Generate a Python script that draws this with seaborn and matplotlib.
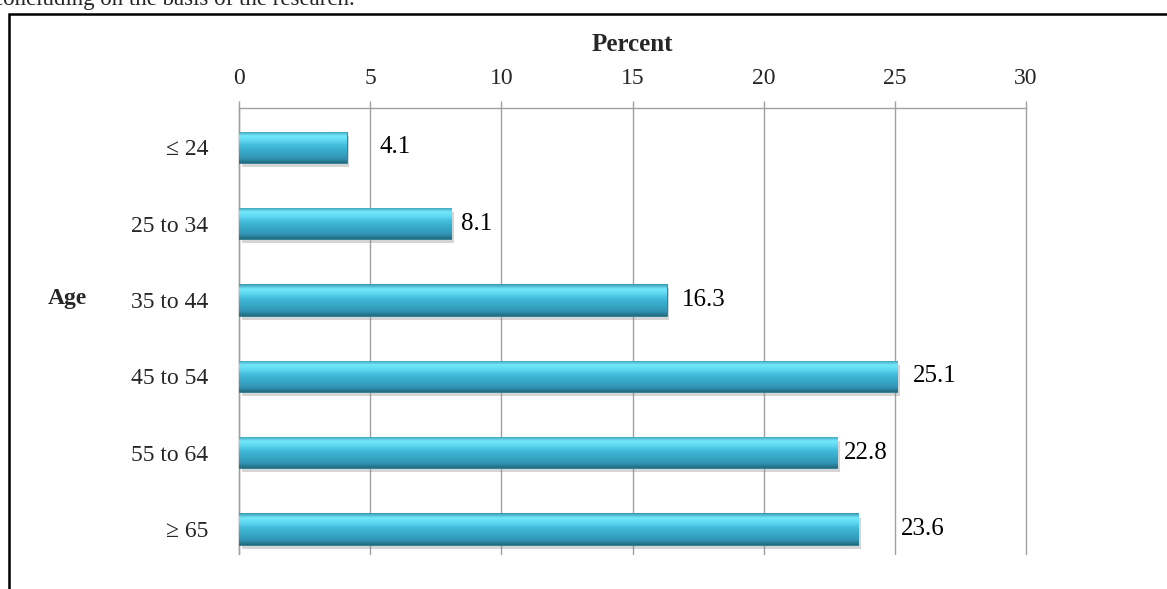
import numpy as np
import pandas as pd
import matplotlib
matplotlib.use("Agg")
import matplotlib.pyplot as plt
import matplotlib.patches as mpatches
import matplotlib.patheffects as pe
import seaborn as sns

# data
age_groups = ["≤ 24", "25 to 34", "35 to 44", "45 to 54", "55 to 64", "≥ 65"]
percent = [4.1, 8.1, 16.3, 25.1, 22.8, 23.6]
x_ticks = [0, 5, 10, 15, 20, 25, 30]
# horizontal gap (points) between bar end and its value label, as placed in the original
label_pad = [24, 7, 11, 11, 5, 31]

sns.set_style("white")
plt.rcParams['font.family'] = ['Liberation Serif', 'DejaVu Serif']

df = pd.DataFrame({"Age": age_groups, "Percent": percent})

fig = plt.figure(figsize=(11.67, 5.89), dpi=100)
ax = fig.add_axes([0.2048, 0.0594, 0.6744, 0.7572])

sns.barplot(data=df, x="Percent", y="Age", orient="h", color="#38AECB",
            width=0.41, ax=ax, zorder=3)

# gradient fill + shadow on each bar
grad_cols = np.array([
    [0.22, 0.60, 0.70],
    [0.45, 0.91, 0.98],
    [0.38, 0.85, 0.95],
    [0.27, 0.75, 0.87],
    [0.23, 0.69, 0.81],
    [0.21, 0.64, 0.76],
    [0.19, 0.58, 0.70],
    [0.13, 0.42, 0.50],
])
pos = np.linspace(0, 1, len(grad_cols))
t = np.linspace(0, 1, 60)
grad = np.stack([np.interp(t, pos, grad_cols[:, k]) for k in range(3)], axis=-1)[:, None, :]

for p in list(ax.patches):
    x0, y0, w, h = p.get_x(), p.get_y(), p.get_width(), p.get_height()
    p.set_edgecolor("#2A7A8E")
    p.set_linewidth(0.6)
    p.set_path_effects([pe.SimplePatchShadow(offset=(2, -3), shadow_rgbFace="#888888", alpha=0.35),
                        pe.Normal()])
    im = ax.imshow(grad, extent=(x0, x0 + w, y0 + h, y0), aspect="auto",
                   origin="upper", zorder=4, interpolation="bilinear")
    im.set_clip_path(p)

# value labels
for i, (v, padv) in enumerate(zip(percent, label_pad)):
    ax.annotate(f"{v}", xy=(v, i), xytext=(padv, 0), textcoords="offset points",
                ha="left", va="center", fontsize=18, color="black", zorder=5)

ax.set_xlim(0, 30)
ax.set_ylim(5.327, -0.513)
ax.set_xticks(x_ticks)
ax.xaxis.tick_top()
ax.xaxis.set_label_position("top")
ax.tick_params(axis="x", direction="out", length=5, width=1, color="#A0A0A0",
               labelsize=17, pad=9, top=True, bottom=False)
ax.set_xlabel("Percent", fontsize=18, fontweight="bold", labelpad=12)

ax.set_yticks(range(len(age_groups)))
ax.set_yticklabels(age_groups)
ax.tick_params(axis="y", which="major", length=0, labelsize=17, pad=22)
ax.set_yticks(np.arange(0.5, len(age_groups) - 0.5, 1), minor=True)
ax.tick_params(axis="y", which="minor", direction="out", length=6, width=1, color="#A0A0A0")
ax.set_ylabel("Age", fontsize=17, fontweight="bold", rotation=0, ha="center", va="center")
ax.yaxis.set_label_coords(-0.2186, 0.574)

ax.grid(axis="x", color="#A0A0A0", linewidth=1, zorder=0)
ax.grid(axis="y", visible=False)
ax.set_axisbelow(True)
for gl in ax.get_xgridlines():
    gl.set_clip_on(False)
for s in ["right", "bottom"]:
    ax.spines[s].set_visible(False)
for s in ["left", "top"]:
    ax.spines[s].set_color("#A0A0A0")
    ax.spines[s].set_linewidth(1)

# page context: cut-off sentence and frame around the chart
fig.text(-0.006, 1 - 4.5 / 589, "concluding on the basis of the research.", fontsize=16.5,
         ha="left", va="baseline")
frame = mpatches.Rectangle((9 / 1167, -0.1), 1.2, 1 - 13.5 / 589 + 0.1, transform=fig.transFigure,
                           fill=False, edgecolor="black", linewidth=1.8, clip_on=False)
fig.add_artist(frame)

fig.savefig("out.png", dpi=100)
